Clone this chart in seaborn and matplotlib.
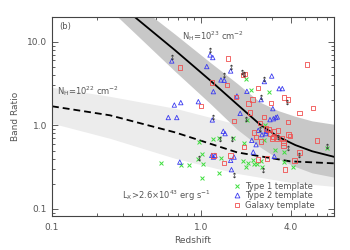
import numpy as np
import pandas as pd
import seaborn as sns
import matplotlib.pyplot as plt
from matplotlib.lines import Line2D

# model curve for NH = 1e23 (solid) and its spread
z_23 = [0.245, 0.361, 0.669, 1.149, 1.745, 2.49, 3.29, 4.3, 5.56, 7.81]
br_23 = [35.0, 19.6, 7.91, 3.46, 1.785, 1.02, 0.73, 0.58, 0.49, 0.42]
br_23_hi = [50.3, 28.9, 12.3, 5.68, 3.18, 1.89, 1.50, 1.28, 1.13, 1.03]
br_23_lo = [24.2, 12.6, 4.43, 1.83, 0.896, 0.55, 0.40, 0.32, 0.27, 0.24]

# model curve for NH = 1e22 (dashed) and its spread
z_22 = [0.1, 0.245, 0.669, 1.745, 3.96, 7.81]
br_22 = [1.69, 1.318, 0.824, 0.475, 0.371, 0.351]
br_22_hi = [2.85, 2.22, 1.60, 1.03, 0.759, 0.699]
br_22_lo = [1.06, 0.699, 0.403, 0.266, 0.208, 0.186]

# Type 1 template sources
z_t1 = [2.00, 2.17, 2.86, 2.03, 1.21, 1.31, 1.65, 1.94, 2.65, 7.04, 4.16, 2.53, 2.24,
        2.00, 2.08, 2.27, 1.905, 1.31, 1.01, 1.036, 1.01, 0.959, 0.731, 0.831, 0.542,
        0.974, 1.36, 2.69, 3.14, 3.61, 3.61, 2.36, 2.56]
br_t1 = [3.56, 2.62, 2.50, 1.15, 0.693, 0.705, 0.705, 0.621, 0.661, 0.535, 0.317, 0.371,
         0.381, 0.314, 0.354, 0.346, 0.374, 0.268, 0.45, 0.348, 0.234, 0.399, 0.332,
         0.332, 0.354, 0.631, 0.41, 1.0, 0.512, 0.479, 0.363, 0.348, 0.317]

# Type 2 template sources
z_t2 = [0.636, 1.149, 1.198, 1.092, 1.58, 1.43, 1.36, 1.21, 1.74, 2.03, 2.66, 2.98, 3.34,
        3.51, 3.03, 2.53, 0.662, 0.731, 0.959, 0.603, 0.687, 1.19, 1.83, 2.90, 3.06,
        3.17, 3.25, 1.41, 1.45, 2.19, 2.34, 2.73, 2.42, 2.56, 2.72, 1.665, 1.60, 1.18,
        1.24, 0.72, 1.21, 1.58, 3.10, 2.24]
br_t2 = [5.89, 6.95, 6.47, 5.05, 4.47, 3.46, 3.49, 2.53, 2.24, 2.55, 3.34, 3.89, 2.75,
         2.75, 1.585, 2.03, 1.75, 1.87, 1.92, 1.24, 1.24, 1.16, 1.39, 1.17, 1.20, 1.24,
         1.26, 0.848, 0.796, 0.661, 0.587, 0.848, 0.871, 0.774, 0.796, 0.417, 0.295,
         0.437, 0.437, 0.363, 0.417, 0.381, 0.425, 0.479]

# Galaxy template sources
z_gal = [0.723, 1.51, 5.12, 1.905, 1.97, 1.49, 1.18, 2.40, 3.61, 3.82, 1.72, 2.95, 2.08,
         4.57, 5.62, 1.0, 1.67, 2.13, 3.82, 1.95, 2.27, 2.33, 2.53, 2.98, 3.10, 3.22,
         3.48, 3.57, 3.96, 5.98, 4.57, 3.66, 2.40, 2.76, 1.42, 1.21, 1.58, 2.21, 2.65,
         2.72, 2.83, 2.90, 3.27, 3.06, 3.85, 3.57, 4.23, 2.49]
br_gal = [4.91, 6.29, 5.33, 4.0, 4.08, 3.04, 3.25, 2.80, 2.15, 2.03, 2.18, 1.85, 1.82,
          1.40, 1.61, 1.69, 1.13, 1.43, 1.10, 0.55, 0.818, 0.724, 0.643, 0.693, 0.848,
          0.693, 0.693, 0.621, 0.745, 0.661, 0.471, 0.295, 0.392, 0.399, 0.354, 0.434,
          0.437, 2.03, 1.26, 0.913, 0.888, 0.796, 0.871, 0.724, 0.774, 0.576, 0.381, 1.065]

# sources flagged with limit arrows
z_lim = [0.636, 1.149, 1.58, 1.43, 1.875, 1.95, 2.66, 3.80, 2.53, 1.198, 2.00, 1.33,
         1.61, 2.49, 7.04, 4.57, 2.62, 1.665, 0.97, 3.30, 3.82]
br_lim = [6.52, 7.91, 4.95, 3.97, 4.35, 4.16, 3.63, 1.885, 2.18, 1.26, 1.20, 0.693,
          0.68, 0.896, 0.568, 0.437, 0.295, 0.252, 0.403, 0.724, 0.535]

x_ticks = [0.1, 1.0, 4.0]
x_ticklabels = ['0.1', '1.0', '4.0']
y_ticks = [0.1, 1.0, 10.0]
y_ticklabels = ['0.1', '1.0', '10.0']

sns.set_style('ticks')
plt.rcParams['font.family'] = ['DejaVu Sans']
txt = '#555555'

fig = plt.figure(figsize=(3.5, 2.5), dpi=100)
ax = fig.add_axes([0.1486, 0.1372, 0.8057, 0.7936])

ax.fill_between(z_22, br_22_lo, br_22_hi, color='#ececec', lw=0, zorder=1)
ax.fill_between(z_23, br_23_lo, br_23_hi, color='#c8c8c8', lw=0, zorder=1.5)
sns.lineplot(x=z_23, y=br_23, color='black', lw=1.3, ax=ax, zorder=2, sort=False)
sns.lineplot(x=z_22, y=br_22, color='black', lw=1.3, ax=ax, zorder=2, sort=False,
             dashes=False, linestyle=(0, (3.8, 2.2)))

sns.scatterplot(x=z_t1, y=br_t1, marker='x', s=8, color='#3ede3e', linewidth=0.7,
                ax=ax, zorder=3)
sns.scatterplot(x=z_t2, y=br_t2, marker='^', s=10, facecolor='none', edgecolor='#3a3af0',
                linewidth=0.6, ax=ax, zorder=3)
sns.scatterplot(x=z_gal, y=br_gal, marker='s', s=10, facecolor='none', edgecolor='#f05050',
                linewidth=0.6, ax=ax, zorder=3)
sns.scatterplot(x=z_lim, y=br_lim, marker='$\\updownarrow$', s=16, color='#333333',
                linewidth=0, ax=ax, zorder=4)

ax.set_xscale('log')
ax.set_yscale('log')
ax.set_xlim(0.1, 7.8)
ax.set_ylim(0.083, 19.6)
ax.set_xticks(x_ticks)
ax.set_xticklabels(x_ticklabels)
ax.set_yticks(y_ticks)
ax.set_yticklabels(y_ticklabels)

ax.tick_params(which='both', direction='in', top=True, right=True, colors='#444444',
               labelcolor=txt, labelsize=6.5, width=0.6)
ax.tick_params(which='major', length=4.5)
ax.tick_params(which='minor', length=2.3)
ax.tick_params(axis='x', pad=5)
for s in ax.spines.values():
    s.set_color('#444444')
    s.set_linewidth(0.8)

ax.set_xlabel('Redshift', fontsize=6.5, color=txt, labelpad=3)
ax.set_ylabel('Band Ratio', fontsize=6.5, color=txt, labelpad=5)

ax.text(0.025, 0.975, '(b)', transform=ax.transAxes, fontsize=6, color=txt, va='top')
ax.text(0.46, 0.906, r'N$_{\rm H}$=10$^{23}$ cm$^{-2}$', transform=ax.transAxes,
        fontsize=6, color=txt, va='center')
ax.text(0.017, 0.629, r'N$_{\rm H}$=10$^{22}$ cm$^{-2}$', transform=ax.transAxes,
        fontsize=6, color=txt, va='center')
ax.text(0.247, 0.099, r'L$_{\rm X}$>2.6$\times$10$^{43}$ erg s$^{-1}$', transform=ax.transAxes,
        fontsize=6, color=txt, va='center')

handles = [
    Line2D([], [], marker='x', ls='none', color='#3ede3e', markersize=3.5, mew=0.7),
    Line2D([], [], marker='^', ls='none', mfc='none', mec='#3a3af0', markersize=3.5, mew=0.6),
    Line2D([], [], marker='s', ls='none', mfc='none', mec='#f05050', markersize=3.3, mew=0.6),
]
leg = ax.legend(handles, ['Type 1 template', 'Type 2 template', 'Galaxy template'],
                loc='upper left', bbox_to_anchor=(0.645, 0.17), frameon=False,
                fontsize=6, handlelength=0.8, handletextpad=0.5, labelspacing=0.05,
                borderpad=0, borderaxespad=0)
for t in leg.get_texts():
    t.set_color(txt)

fig.savefig('out.png', dpi=100)
